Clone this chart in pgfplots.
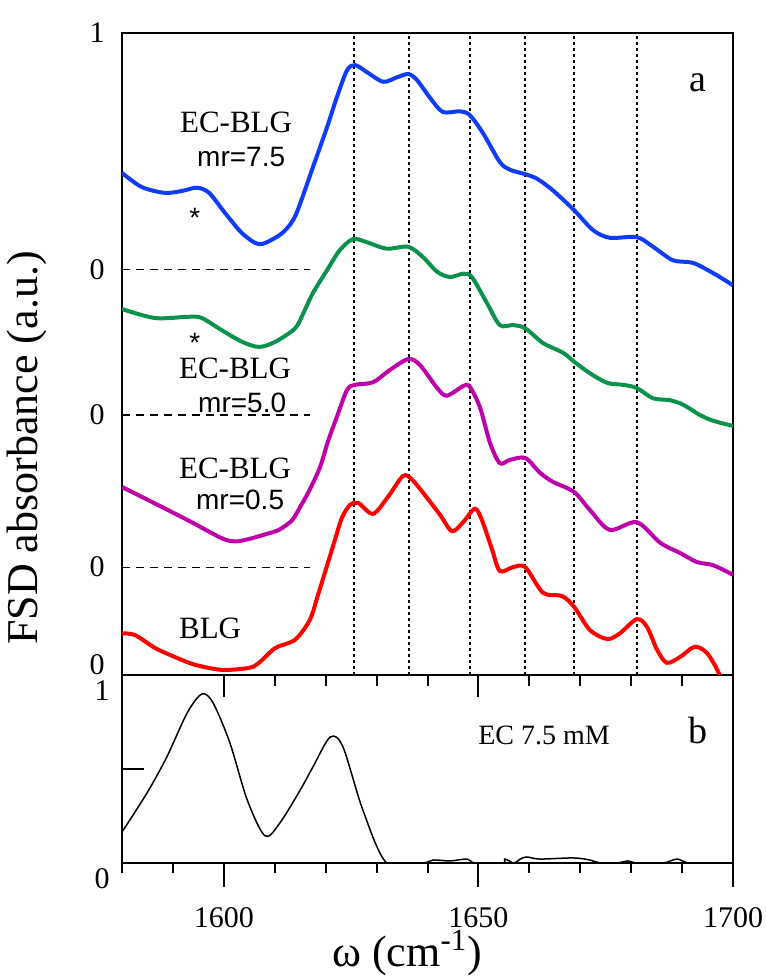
\documentclass[border=0pt]{standalone}
\usepackage{fontspec}
\setmainfont{Liberation Serif}
\newfontfamily\sansf{Liberation Sans}
\usepackage{pgfplots}
\pgfplotsset{compat=1.18}
\definecolor{cblue}{RGB}{15,60,250}
\definecolor{cgreen}{RGB}{10,145,75}
\definecolor{cmag}{RGB}{190,0,170}
\definecolor{cred}{RGB}{255,0,0}

\begin{document}
\begin{tikzpicture}
\pgfplotsset{
  every axis/.append style={
    scale only axis,
    width=305.5pt,
    xmin=1580, xmax=1700,
    axis line style={line width=1pt},
    tick style={line width=1pt, black},
    /pgf/number format/assume math mode=true,
    /pgf/number format/1000 sep={},
    tick label style={font=\fontsize{15}{18}\selectfont},
  }
}
% ---- panel b: data, inner ticks (left and along the shared top line), numbers below ----
\begin{axis}[
  at={(0,0)}, anchor=south west,
  height=94pt,
  ymin=0, ymax=1,
  tick align=inside,
  xtick={1600,1650,1700}, minor x tick num=4,
  xtick pos=right, xticklabel pos=left,
  ytick={0,0.5,1}, yticklabels={0,,1},
  ytick pos=left,
  major tick length=11pt, minor tick length=5.5pt,
  xticklabel style={inner sep=0pt, yshift=-22pt},
  yticklabel style={inner sep=0pt, xshift=-6pt, yshift=-8pt},
]
\addplot[black, line width=0.75pt, smooth, tension=0.5] coordinates {
  (1580.0,0.165) (1584.9,0.372) (1588.8,0.564) (1592.8,0.798) (1595.7,0.899)
  (1597.9,0.851) (1601.2,0.638) (1604.6,0.335) (1608.1,0.144) (1611.0,0.213)
  (1615.0,0.388) (1617.5,0.511) (1620.9,0.670) (1623.4,0.617) (1627.3,0.282)
  (1632.0,0.0) (1639.1,0.0) (1641.1,0.016) (1644.4,0.011) (1647.8,0.021)
  (1649.3,0.0) (1654.8,0.0) (1655.2,0.021) (1657.0,0.0) (1658.2,0.021)
  (1659.5,0.032) (1662.1,0.021) (1668.6,0.027) (1671.9,0.016) (1673.9,0.0)
  (1677.2,0.0) (1679.4,0.011) (1681.1,0.0) (1686.3,0.0) (1689.0,0.021)
  (1691.6,0.0) (1700.0,0.0)
};
\node[font=\fontsize{14}{17}\selectfont] at (axis cs:1662.9,0.681) {EC 7.5 mM};
\node[font=\fontsize{19}{23}\selectfont] at (axis cs:1693.1,0.707) {b};
\end{axis}

% ---- panel a ----
\begin{axis}[
  at={(0,94pt)}, anchor=south west,
  height=321pt,
  ymin=0, ymax=1,
  xtick=\empty,
  extra x ticks={1625.6,1636.4,1648.3,1659.1,1668.8,1681.1},
  extra x tick labels={},
  extra x tick style={grid=major, major tick length=0pt},
  major grid style={black, line width=0.8pt, dash pattern=on 1.5pt off 1.5pt},
  ytick={0.0156,0.168,0.405,0.631,1}, yticklabels={0,0,0,0,1},
  ytick pos=left,
  major y tick style={draw=none},
  yticklabel style={inner sep=0pt, xshift=-8.5pt},
]
% zero lines of the shifted spectra
\addplot[black, line width=0.6pt, dash pattern=on 4pt off 3pt, forget plot] coordinates {(1580,0.631) (1616.9,0.631)};
\addplot[black, line width=0.6pt, dash pattern=on 4pt off 3pt, forget plot] coordinates {(1580,0.405) (1616.9,0.405)};
\addplot[black, line width=0.6pt, dash pattern=on 4pt off 3pt, forget plot] coordinates {(1580,0.168) (1616.9,0.168)};

% EC-BLG mr=7.5
\addplot[cblue, line width=2pt, smooth, tension=0.5] coordinates {
  (1580.0,0.782) (1583.9,0.760) (1588.4,0.751) (1591.8,0.754) (1594.7,0.759)
  (1597.1,0.751) (1600.2,0.720) (1603.6,0.688) (1606.9,0.671) (1610.1,0.681)
  (1612.2,0.694) (1614.2,0.718) (1617.5,0.791) (1620.3,0.854) (1622.2,0.900)
  (1624.2,0.942) (1625.8,0.950) (1628.1,0.939) (1631.3,0.924) (1634.0,0.931)
  (1636.2,0.936) (1637.9,0.927) (1640.5,0.899) (1643.0,0.877) (1646.4,0.878)
  (1648.3,0.872) (1650.9,0.844) (1654.2,0.799) (1656.2,0.787) (1659.2,0.780)
  (1661.5,0.773) (1664.6,0.755) (1668.8,0.724) (1672.5,0.693) (1675.8,0.681)
  (1681.1,0.682) (1684.3,0.667) (1688.2,0.646) (1692.1,0.642) (1696.1,0.626)
  (1700.0,0.607)
};
% EC-BLG mr=5.0
\addplot[cgreen, line width=2pt, smooth, tension=0.5] coordinates {
  (1580.0,0.570) (1586.5,0.556) (1593.2,0.558) (1595.7,0.556) (1599.6,0.537)
  (1603.6,0.519) (1606.9,0.511) (1610.1,0.519) (1614.0,0.540) (1615.7,0.565)
  (1617.5,0.595) (1620.3,0.631) (1622.8,0.662) (1625.4,0.679) (1628.1,0.674)
  (1632.0,0.664) (1636.2,0.667) (1639.1,0.651) (1641.9,0.628) (1644.4,0.620)
  (1647.0,0.625) (1648.7,0.620) (1651.7,0.579) (1654.2,0.545) (1656.8,0.545)
  (1659.2,0.540) (1662.7,0.517) (1666.6,0.502) (1668.8,0.488) (1671.9,0.470)
  (1675.3,0.455) (1678.4,0.452) (1681.1,0.447) (1684.3,0.431) (1687.6,0.428)
  (1690.2,0.421) (1693.5,0.405) (1696.1,0.396) (1700.0,0.388)
};
% EC-BLG mr=0.5
\addplot[cmag, line width=2pt, smooth, tension=0.5] coordinates {
  (1580.0,0.293) (1586.5,0.267) (1593.2,0.240) (1599.6,0.213) (1602.2,0.208)
  (1605.0,0.212) (1608.1,0.219) (1610.8,0.226) (1613.4,0.241) (1615.0,0.262)
  (1616.7,0.286) (1618.9,0.324) (1620.5,0.365) (1622.2,0.402) (1624.2,0.444)
  (1625.8,0.452) (1629.3,0.456) (1632.6,0.475) (1636.2,0.492) (1638.5,0.483)
  (1641.9,0.447) (1643.8,0.435) (1647.0,0.450) (1648.3,0.449) (1650.3,0.417)
  (1652.3,0.361) (1654.2,0.330) (1656.2,0.335) (1659.2,0.338) (1662.1,0.315)
  (1664.6,0.301) (1668.8,0.285) (1671.9,0.257) (1675.8,0.226) (1681.1,0.238)
  (1685.7,0.206) (1689.6,0.190) (1692.9,0.176) (1696.1,0.171) (1700.0,0.156)
};
% BLG
\addplot[cred, line width=2pt, smooth, tension=0.5] coordinates {
  (1580.0,0.065) (1582.6,0.062) (1586.5,0.042) (1590.4,0.028) (1594.3,0.016)
  (1599.6,0.008) (1604.9,0.011) (1606.9,0.019) (1610.1,0.042) (1614.0,0.055)
  (1616.9,0.086) (1618.5,0.125) (1620.3,0.171) (1621.8,0.210) (1623.2,0.245)
  (1624.8,0.265) (1626.4,0.268) (1629.3,0.251) (1632.2,0.277) (1635.2,0.310)
  (1637.0,0.304) (1639.9,0.276) (1642.5,0.249) (1644.8,0.224) (1647.0,0.238)
  (1649.3,0.259) (1650.7,0.241) (1652.7,0.195) (1654.2,0.162) (1656.8,0.168)
  (1659.2,0.168) (1662.7,0.128) (1666.4,0.123) (1668.8,0.106) (1671.9,0.070)
  (1675.3,0.056) (1677.8,0.065) (1681.1,0.087) (1683.1,0.075) (1685.1,0.039)
  (1687.0,0.019) (1689.6,0.028) (1692.5,0.044) (1694.9,0.034) (1697.1,0.005)
  (1698.5,-0.025)
};

\node[font=\fontsize{15.5}{18}\selectfont] at (axis cs:1602.4,0.861) {EC-BLG};
\node[font=\sansf\fontsize{14}{17}\selectfont] at (axis cs:1603.4,0.807) {mr=7.5};
\node[font=\sansf\fontsize{14}{17}\selectfont, yshift=-3pt] at (axis cs:1594.3,0.721) {*};
\node[font=\sansf\fontsize{14}{17}\selectfont, yshift=-3pt] at (axis cs:1594.3,0.527) {*};
\node[font=\fontsize{15.5}{18}\selectfont] at (axis cs:1602.2,0.478) {EC-BLG};
\node[font=\sansf\fontsize{14}{17}\selectfont] at (axis cs:1603.6,0.424) {mr=5.0};
\node[font=\fontsize{15.5}{18}\selectfont] at (axis cs:1602.2,0.322) {EC-BLG};
\node[font=\sansf\fontsize{14}{17}\selectfont] at (axis cs:1603.2,0.273) {mr=0.5};
\node[font=\fontsize{15.5}{18}\selectfont] at (axis cs:1597.3,0.073) {BLG};
\node[font=\fontsize{19}{23}\selectfont] at (axis cs:1693.1,0.922) {a};
\end{axis}

% outward tick marks under panel b, every 10 cm^-1 (2.5458pt per unit), as filled bars
\fill[black] (-0.5pt,0.5pt) rectangle (0.5pt,-5pt);
\fill[black] (24.96pt,0.5pt) rectangle (25.96pt,-5pt);
\fill[black] (50.42pt,0.5pt) rectangle (51.42pt,-12pt);
\fill[black] (75.88pt,0.5pt) rectangle (76.88pt,-5pt);
\fill[black] (101.33pt,0.5pt) rectangle (102.33pt,-5pt);
\fill[black] (126.79pt,0.5pt) rectangle (127.79pt,-5pt);
\fill[black] (152.25pt,0.5pt) rectangle (153.25pt,-5pt);
\fill[black] (177.71pt,0.5pt) rectangle (178.71pt,-12pt);
\fill[black] (203.17pt,0.5pt) rectangle (204.17pt,-5pt);
\fill[black] (228.63pt,0.5pt) rectangle (229.63pt,-5pt);
\fill[black] (254.08pt,0.5pt) rectangle (255.08pt,-5pt);
\fill[black] (279.54pt,0.5pt) rectangle (280.54pt,-5pt);
\fill[black] (305.0pt,0.5pt) rectangle (306.0pt,-12pt);

\node[rotate=90, font=\fontsize{22}{26}\selectfont] at (-47.5pt,207.5pt) {FSD absorbance (a.u.)};
\node[font=\fontsize{22}{26}\selectfont] at (142.5pt,-45pt) {ω (cm\textsuperscript{-1})};

\pgfresetboundingbox
\path[use as bounding box] (-61pt,-57.5pt) rectangle (321.5pt,431.5pt);
\end{tikzpicture}
\end{document}
